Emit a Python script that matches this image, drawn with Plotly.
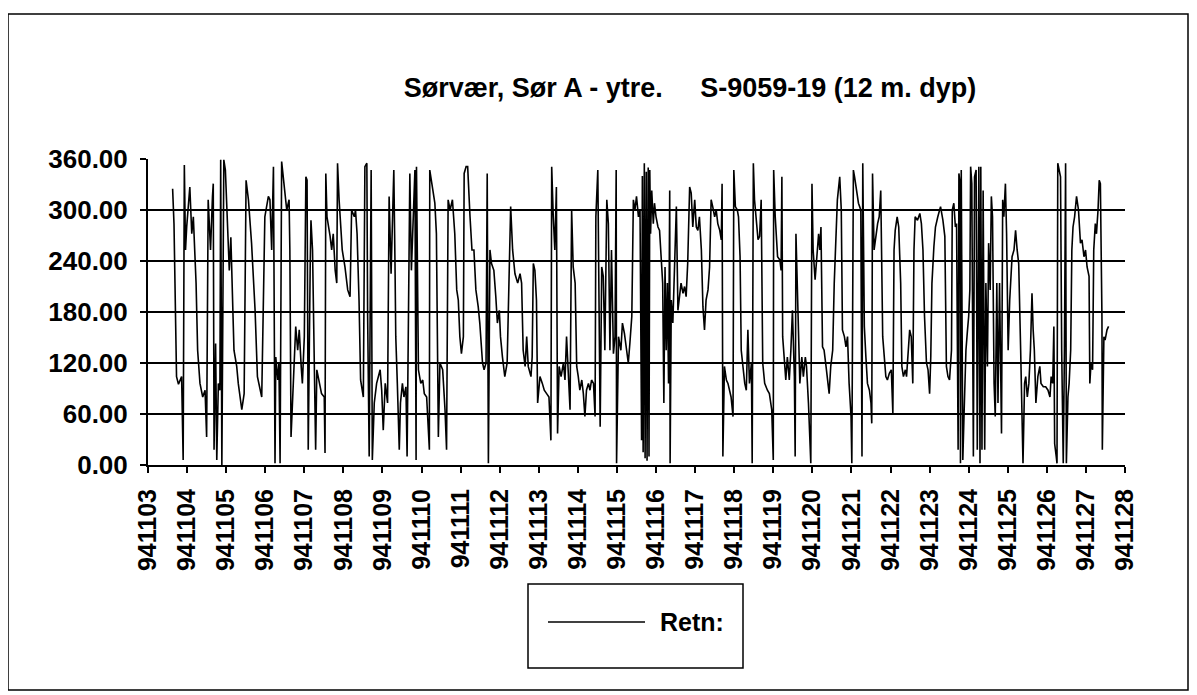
import plotly.graph_objects as go

# ---- data (days since 941103, direction in degrees) ----
days = [
 0.63,0.665,0.73,0.78,0.86,0.90,0.93,0.96,0.99,1.07,1.12,1.16,1.23,1.27,1.33,1.40,1.46,1.50,1.54,1.60,
 1.65,1.67,1.69,1.73,1.76,1.80,1.84,1.86,1.89,1.94,1.98,2.08,2.12,2.20,2.27,2.31,2.40,2.46,2.51,2.57,
 2.65,2.74,2.80,2.91,2.99,3.08,
 3.12,3.165,3.21,3.25,3.27,3.32,3.35,3.38,3.42,3.51,3.55,3.61,3.63,3.66,3.72,3.78,3.83,3.87,3.92,3.95,
 4.00,4.04,4.07,4.10,4.15,4.17,4.21,4.26,4.29,4.32,4.38,4.44,4.51,4.53,4.55,4.58,4.66,4.70,4.74,4.79,
 4.83,4.85,4.89,4.92,4.97,5.04,5.11,5.17,5.21,5.28,5.31,5.35,5.40,5.44,5.51,5.55,5.60,5.62,5.66,5.71,
 5.74,5.79,5.85,5.94,5.98,6.02,6.07,6.13,6.17,
 6.22,6.26,6.29,6.32,6.34,6.38,6.43,6.46,6.51,6.55,6.60,6.63,6.67,6.70,6.74,6.79,6.83,6.86,6.87,6.92,
 6.98,7.03,7.07,7.13,7.20,7.21,7.26,7.30,7.34,7.38,7.43,7.47,7.54,7.60,7.64,7.68,7.73,7.79,7.85,7.90,
 7.94,7.98,8.02,8.07,8.09,8.14,8.18,8.24,8.29,8.34,8.39,8.45,8.49,8.56,8.60,8.65,8.68,8.71,8.75,8.79,
 8.85,8.90,8.94,8.99,9.02,9.07,9.13,9.19,9.24,9.28,9.33,
 9.39,9.46,9.52,9.56,9.60,9.65,9.69,9.73,9.80,9.83,9.86,9.90,9.94,9.97,10.03,10.09,10.14,10.20,10.26,10.31,
 10.33,10.37,10.41,10.45,10.48,10.52,10.57,10.63,10.67,10.71,10.76,10.80,10.84,10.88,10.93,10.97,11.01,11.05,11.10,11.14,
 11.18,11.22,11.27,11.31,11.35,11.40,11.44,11.46,11.51,11.54,11.57,11.61,11.65,11.69,11.74,11.78,11.82,11.86,11.91,11.95,
 11.98,11.99,12.04,12.10,12.14,12.19,12.25,12.29,12.33,12.38,12.42,12.46,12.50,12.55,12.59,12.63,
 12.65,12.67,12.70,12.72,12.75,12.77,12.80,12.82,12.84,12.86,12.89,12.93,12.96,13.00,13.05,13.09,13.13,13.17,13.20,13.23,
 13.26,13.29,13.32,13.35,13.36,13.39,13.43,13.47,13.52,13.56,13.60,13.64,13.69,13.73,13.77,13.81,13.86,13.90,13.94,13.99,
 14.03,14.07,14.11,14.16,14.20,14.24,14.28,14.33,14.37,14.41,14.45,14.50,14.54,14.58,14.63,14.67,14.69,14.71,14.75,14.80,
 14.84,14.88,14.92,14.97,14.99,15.03,15.08,15.11,15.15,15.18,15.22,15.27,15.31,15.35,15.39,15.44,15.46,15.49,15.52,15.56,
 15.61,15.65,15.69,15.73,15.78,15.85,
 15.90,15.96,16.00,16.01,16.05,16.11,16.17,16.20,16.22,16.24,16.28,16.32,16.36,16.41,16.45,16.49,16.54,16.56,16.58,16.61,
 16.65,16.68,16.73,16.77,16.82,16.85,16.90,16.96,16.99,17.02,17.07,17.11,17.16,17.19,17.22,17.26,17.30,17.35,17.39,17.43,
 17.47,17.52,17.56,17.60,17.64,17.70,17.74,17.77,17.82,17.86,17.90,17.94,17.99,18.01,18.05,18.08,18.13,18.18,18.24,18.27,
 18.29,18.33,18.37,18.41,18.46,18.50,18.52,18.54,18.58,18.63,18.67,18.71,18.75,18.80,18.84,18.88,18.92,18.97,19.02,
 19.06,19.09,19.12,19.17,19.21,19.26,19.29,19.33,19.38,19.41,19.45,19.49,19.53,19.57,19.60,19.63,19.69,19.75,19.79,19.83,
 19.87,19.92,19.96,20.00,20.03,20.06,20.11,20.15,20.21,20.28,20.34,20.39,20.43,20.47,20.51,20.56,20.58,20.62,20.66,20.69,
 20.73,20.75,20.78,20.79,20.81,20.85,20.88,20.93,20.97,21.00,21.03,21.05,21.08,21.12,21.15,21.19,21.22,21.26,21.29,21.31,
 21.34,21.37,21.41,21.44,21.48,21.51,21.55,21.58,21.61,21.65,21.68,21.72,21.75,21.79,21.84,21.87,21.90,21.94,21.97,22.01,
 22.05,
 22.11,22.16,22.20,22.24,22.28,22.33,22.37,22.39,22.43,22.46,22.50,22.54,22.58,22.62,22.65,22.68,22.72,22.77,22.82,22.85,
 22.91,22.97,23.03,23.08,23.11,23.15,23.18,23.20,23.24,23.26,23.28,23.32,23.35,23.38,23.42,23.45,23.48,23.50,23.54,23.57,
 23.61,23.64,23.67,23.71,23.76,23.81,23.86,23.90,23.95,23.99,24.03,24.08,24.10,24.13,24.17,24.20,24.24,24.27,24.31,24.34,
 24.37,24.41,24.42,24.46,24.49,24.54,24.58,
]

retn = [
 325,284,104,95,104,6,353,253,280,327,272,292,214,135,96,80,88,33,312,253,
 316,331,18,143,6,96,88,359,0,359,347,229,268,135,116,96,65,84,335,312,
 261,182,104,80,292,316,
 312,253,351,2,127,100,120,2,357,312,300,312,253,33,96,163,135,159,116,96,
 151,339,335,18,233,288,253,104,18,112,96,84,80,14,343,292,269,253,272,229,
 214,355,312,292,253,233,206,198,300,292,300,272,194,100,80,351,355,175,10,347,
 6,73,96,112,88,41,96,73,316,
 225,312,347,237,151,96,18,73,96,80,92,10,253,343,229,292,347,6,351,112,
 96,100,84,80,18,347,331,323,308,272,33,120,112,65,18,312,300,312,272,206,
 194,151,131,151,343,351,351,292,253,253,206,186,167,120,112,120,343,2,253,237,
 229,198,167,182,151,127,104,120,229,304,253,
 225,214,225,214,135,116,151,116,104,127,237,229,194,73,104,96,88,84,80,29,
 351,292,253,327,37,116,104,120,100,151,104,65,300,233,214,116,104,88,100,84,
 57,88,96,88,100,96,57,292,347,214,45,233,222,135,312,284,135,253,131,151,
 347,2,151,135,167,155,135,120,143,175,312,300,316,292,300,29,
 340,15,355,8,345,5,350,10,347,272,323,284,308,292,280,276,245,214,73,233,
 135,214,96,323,2,194,167,222,304,182,198,214,202,210,198,237,327,320,280,312,
 280,276,292,253,186,159,194,206,233,312,304,292,300,284,276,265,331,10,116,100,
 96,88,80,57,347,304,300,292,245,135,116,96,88,159,96,120,2,355,312,292,
 265,269,312,120,96,88,
 84,65,6,347,292,245,241,229,339,151,120,100,127,100,135,182,104,10,272,214,
 155,96,127,104,127,116,73,2,331,253,218,245,272,253,280,139,135,116,96,84,
 116,135,214,269,312,339,300,159,151,139,151,96,57,2,347,339,323,308,300,10,
 355,163,127,96,88,73,49,343,253,272,284,292,323,151,127,104,100,108,112,
 61,253,276,292,280,214,116,104,112,104,135,159,151,96,253,292,288,296,284,253,
 175,120,112,84,127,214,257,280,292,304,288,269,116,104,100,135,300,308,280,284,
 18,343,331,2,347,6,57,135,159,175,206,351,331,10,339,347,18,351,2,351,
 18,323,18,214,116,261,206,316,292,96,57,214,73,214,37,312,292,331,272,135,
 194,
 245,253,276,253,237,135,57,2,96,104,80,96,135,202,159,135,73,104,116,96,
 92,92,88,80,104,96,163,25,10,2,355,347,339,135,2,135,355,2,80,96,
 135,253,280,292,316,300,261,265,245,253,233,222,96,120,112,253,284,272,300,335,
 331,175,18,151,147,159,163,
]

tick_positions = list(range(26))
tick_labels = ["941103","941104","941105","941106","941107","941108","941109","941110",
               "941111","941112","941113","941114","941115","941116","941117","941118",
               "941119","941120","941121","941122","941123","941124","941125","941126",
               "941127","941128"]
y_ticks = [0, 60, 120, 180, 240, 300, 360]
y_labels = ["0.00", "60.00", "120.00", "180.00", "240.00", "300.00", "360.00"]

title_text = "Sørvær, Sør A - ytre.\u00a0\u00a0\u00a0\u00a0\u00a0S-9059-19 (12 m. dyp)"
series_name = "Retn:"

FONT = "Liberation Sans, Arial, sans-serif"
OFF = 8                      # page body margin of the html page
VW, VH = 1197, 695           # browser viewport
W, H = VW - OFF, VH - OFF    # figure size so it ends at the viewport edge
PL, PR, PT, PB = 148, 1125, 159, 465   # plot area in screen pixels
L, R, T, B = PL - OFF, VW - PR, PT - OFF, VH - PB
PW, PH = W - L - R, H - T - B

def px(x):
    return (x - PL) / PW

def py(y):
    return (PB - y) / PH

fig = go.Figure()
fig.add_trace(go.Scatter(
    x=days, y=retn, mode="lines", name=series_name,
    line=dict(color="black", width=1.6), showlegend=False,
))

fig.update_layout(
    width=W, height=H,
    margin=dict(l=L, r=R, t=T, b=B, pad=0),
    paper_bgcolor="white", plot_bgcolor="white",
    title=dict(text=title_text, x=px(690), xref="paper", xanchor="center",
               y=1 - (88 - OFF) / H, yref="container", yanchor="middle",
               font=dict(family=FONT, size=27, color="black", weight="bold")),
    xaxis=dict(range=[0, 25], tickmode="array", tickvals=tick_positions, ticktext=tick_labels,
               tickangle=-90, ticks="outside", ticklen=6, tickwidth=1.5, tickcolor="black",
               showline=True, linecolor="black", linewidth=2, showgrid=False, zeroline=False,
               ticklabelstandoff=6,
               tickfont=dict(family=FONT, size=25, color="black", weight="bold")),
    yaxis=dict(range=[0, 360], tickmode="array", tickvals=y_ticks, ticktext=y_labels,
               ticks="outside", ticklen=6, tickwidth=1.5, tickcolor="black",
               showline=True, linecolor="black", linewidth=2,
               showgrid=True, gridcolor="black", gridwidth=1.5, zeroline=False,
               ticklabelstandoff=7,
               tickfont=dict(family=FONT, size=26, color="black", weight="bold")),
    shapes=[
        dict(type="rect", xref="paper", yref="paper", x0=px(8), x1=px(1188), y0=py(690), y1=py(14),
             line=dict(color="black", width=1.5), fillcolor="rgba(0,0,0,0)", layer="below"),
        dict(type="rect", xref="paper", yref="paper", x0=px(528), x1=px(743), y0=py(668), y1=py(584),
             line=dict(color="black", width=1.5), fillcolor="white"),
        dict(type="line", xref="paper", yref="paper", x0=px(548), x1=px(645), y0=py(622), y1=py(622),
             line=dict(color="black", width=1.5)),
    ],
    annotations=[
        dict(text=series_name, xref="paper", yref="paper", x=px(658), y=py(622),
             xanchor="left", yanchor="middle", showarrow=False,
             font=dict(family=FONT, size=25, color="black", weight="bold")),
    ],
)

fig.write_html("out.html")
